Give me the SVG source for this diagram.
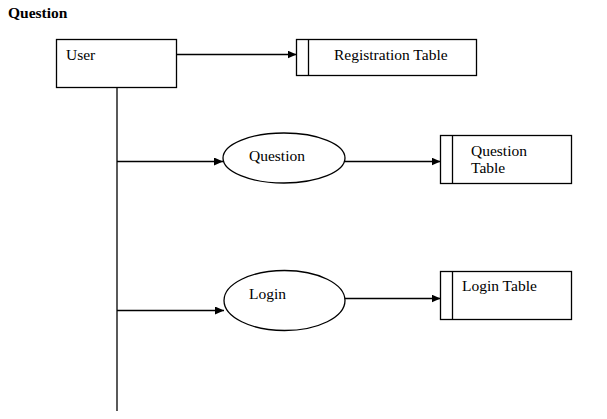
<svg xmlns="http://www.w3.org/2000/svg" width="607" height="419" viewBox="0 0 607 419">
<defs>
<marker id="arr" markerWidth="10" markerHeight="8" refX="9" refY="4" orient="auto" markerUnits="userSpaceOnUse">
<path d="M0,0 L9,4 L0,8 Z" fill="#000"/>
</marker>
<style>
text{font-family:"Liberation Serif","Times New Roman",serif;font-size:15.5px;fill:#000}
.b{fill:#fff;stroke:#000;stroke-width:1.3}
.l{stroke:#000;stroke-width:1.3;fill:none}
.c{stroke:#000;stroke-width:1.3;fill:none;marker-end:url(#arr)}
</style>
</defs>
<rect width="607" height="419" fill="#fff"/>
<text x="8" y="18" style="font-weight:bold">Question</text>
<g id="user"><rect class="b" x="56.5" y="39.5" width="120" height="48"/><text x="66" y="60">User</text></g>
<g id="regtable"><rect class="b" x="296.5" y="39.5" width="180" height="36"/><line class="l" x1="308.5" y1="39.5" x2="308.5" y2="75.5"/><text x="334" y="60">Registration Table</text></g>
<g id="question"><ellipse class="b" cx="284" cy="158" rx="61" ry="25"/><text x="249" y="161">Question</text></g>
<g id="qtable"><rect class="b" x="440.5" y="135.5" width="131" height="48"/><line class="l" x1="452.5" y1="135.5" x2="452.5" y2="183.5"/><text x="471" y="155.5">Question</text><text x="471" y="173">Table</text></g>
<g id="login"><ellipse class="b" cx="284.5" cy="300.5" rx="60.5" ry="30"/><text x="249" y="299">Login</text></g>
<g id="ltable"><rect class="b" x="440.5" y="271.5" width="131" height="48"/><line class="l" x1="452.5" y1="271.5" x2="452.5" y2="319.5"/><text x="462" y="291">Login Table</text></g>
<g id="connectors">
<line class="l" x1="117" y1="87.5" x2="117" y2="411"/>
<line class="c" x1="176.5" y1="54.5" x2="296.5" y2="54.5"/>
<line class="c" x1="117" y1="161.5" x2="223" y2="161.5"/>
<line class="c" x1="345" y1="161.5" x2="440.5" y2="161.5"/>
<line class="c" x1="117" y1="310.5" x2="224" y2="310.5"/>
<line class="c" x1="345" y1="298.5" x2="440.5" y2="298.5"/>
</g>
</svg>
